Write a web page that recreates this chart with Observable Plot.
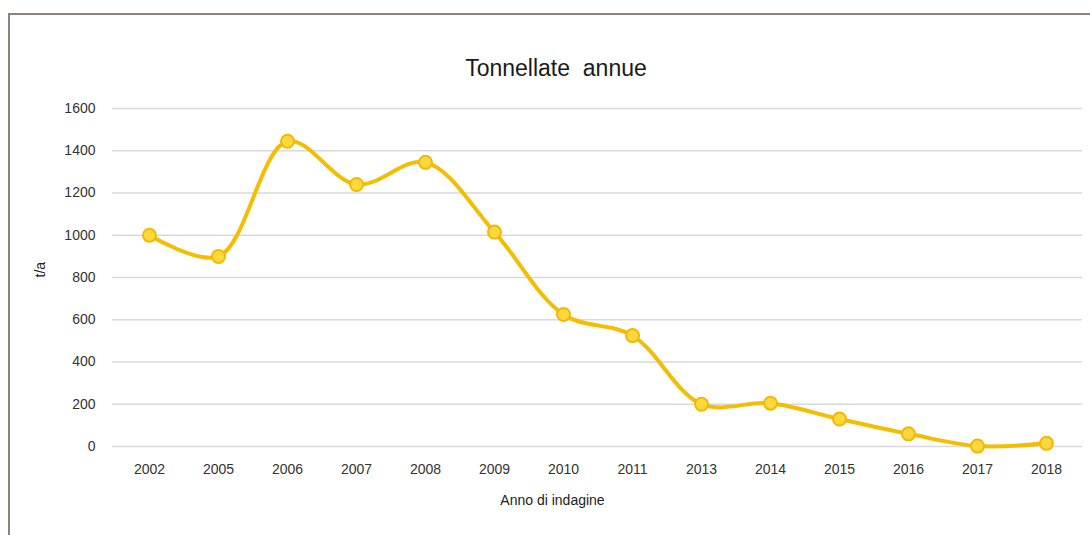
<!DOCTYPE html>
<html>
<head>
<meta charset="utf-8">
<script src="https://cdn.jsdelivr.net/npm/d3@7"></script>
<script src="https://cdn.jsdelivr.net/npm/@observablehq/plot@0.6"></script>
<style>
  html, body { margin: 0; padding: 0; background: #fff; }
  #wrap { position: relative; width: 1090px; height: 535px; overflow: hidden; }
  #frame { position: absolute; left: 8px; top: 13px; right: -4px; bottom: -4px;
           border-top: 2px solid #8c8279; border-left: 2px solid #8c8279; }
  #title { position: absolute; left: 0; width: 1112px; top: 55px; text-align: center; white-space: pre;
           font-family: "Liberation Sans Narrow", "Arial Narrow", "Liberation Sans", Arial, sans-serif;
           font-size: 23px; color: #1a1a1a; }
  #chart { position: absolute; left: 0; top: 0; }
</style>
</head>
<body>
<div id="wrap">
  <div id="frame"></div>
  <div id="title">Tonnellate  annue</div>
  <div id="chart"></div>
</div>
<script>
const years = ["2002","2005","2006","2007","2008","2009","2010","2011","2013","2014","2015","2016","2017","2018"];
const tonnes = [1000, 900, 1445, 1240, 1345, 1015, 625, 525, 200, 205, 130, 60, 2, 15];
const yTicks = [0, 200, 400, 600, 800, 1000, 1200, 1400, 1600];

const data = years.map((y, i) => ({year: y, t: tonnes[i]}));
const font = '"Liberation Sans Narrow", "Arial Narrow", "Liberation Sans", Arial, sans-serif';

const chart = Plot.plot({
  width: 1090,
  height: 535,
  marginLeft: 112,
  marginRight: 8,
  marginTop: 108,
  marginBottom: 89,
  style: {fontFamily: font, fontSize: "14px", color: "#333", background: "transparent"},
  x: {type: "point", domain: years, padding: 0.5, label: null},
  y: {domain: [0, 1600], label: null},
  marks: [
    Plot.gridY(yTicks, {stroke: "#d9d9d9", strokeOpacity: 1, strokeWidth: 1.5}),
    Plot.axisY(yTicks, {tickSize: 0, tickPadding: 17, label: null, tickFormat: d => String(d)}),
    Plot.axisX({tickSize: 0, tickPadding: 18, label: null}),
    Plot.text(["t/a"], {frameAnchor: "left", dx: -72, rotate: -90, fontSize: 14, fill: "#222"}),
    Plot.text(["Anno di indagine"], {frameAnchor: "bottom", dx: -45, dy: 58, fontSize: 14, fill: "#222"}),
    Plot.line(data, {x: "year", y: "t", stroke: "#f5bd00", strokeWidth: 4, curve: "catmull-rom"}),
    Plot.dot(data, {x: "year", y: "t", r: 6.5, fill: "#ffd840", stroke: "#f2b900", strokeWidth: 2})
  ]
});
document.getElementById("chart").appendChild(chart);
</script>
</body>
</html>
